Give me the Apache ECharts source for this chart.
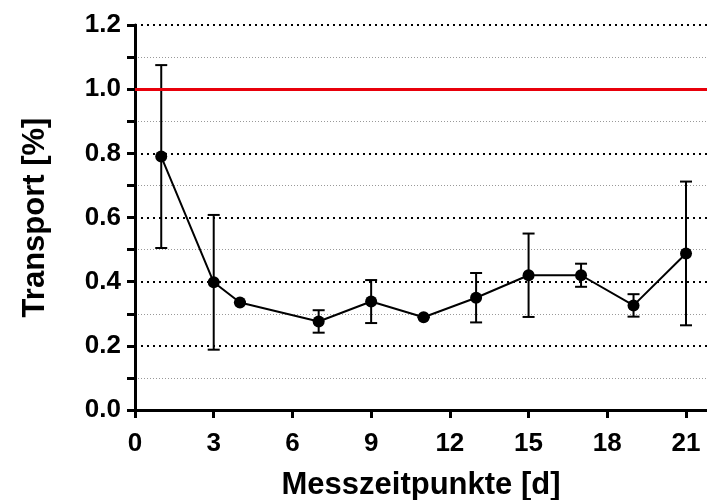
<!DOCTYPE html>
<html>
    <head>
        <meta charset="utf-8">
        <title>Transport</title>
        <script src="https://cdn.jsdelivr.net/npm/echarts@6/dist/echarts.min.js"></script>
        <style>
            html, body { margin: 0; padding: 0; background: #fff; }
            #chart1 { width: 707px; height: 500px; }
        </style>
    </head>
    <body>
        <div id="chart1"></div>
        <script type="text/javascript">
            // Messzeitpunkte (Tage)
            var days = [1, 3, 4, 7, 9, 11, 13, 15, 17, 19, 21];
            // Mittelwerte
            var means = [0.79, 0.398, 0.335, 0.276, 0.338, 0.289, 0.35, 0.42, 0.42, 0.326, 0.488];
            // Fehlerbalken (+/-)
            var errors = [0.285, 0.21, 0, 0.035, 0.067, 0, 0.077, 0.13, 0.036, 0.035, 0.224];
            // Referenzlinie
            var refLevel = 1.0;

            var font = '"Liberation Sans", Arial, sans-serif';

            var lineData = days.map(function (d, i) { return [d, means[i]]; });
            var errData = days.map(function (d, i) {
                return [d, means[i] - errors[i], means[i] + errors[i]];
            });

            var myChart = echarts.init(document.getElementById("chart1"));
            var option = {
                backgroundColor: '#fff',
                animation: false,
                // feste Plotfläche, keine automatische Verkleinerung
                grid: { left: 135, right: 0, top: 25, bottom: 90, outerBoundsMode: 'none', containLabel: false },
                xAxis: {
                    type: 'value',
                    min: 0,
                    max: 21.8,
                    interval: 3,
                    name: 'Messzeitpunkte [d]',
                    nameLocation: 'middle',
                    nameGap: 60,
                    nameTextStyle: { fontFamily: font, fontWeight: 'bold', fontSize: 31, color: '#000' },
                    axisLine: { onZero: false, lineStyle: { color: '#000', width: 3 } },
                    axisTick: { show: true, length: 8, lineStyle: { color: '#000', width: 3 } },
                    axisLabel: {
                        fontFamily: font, fontWeight: 'bold', fontSize: 26, color: '#000', margin: 21,
                        showMaxLabel: false
                    },
                    splitLine: { show: false }
                },
                yAxis: {
                    type: 'value',
                    min: 0,
                    max: 1.2,
                    interval: 0.2,
                    name: 'Transport [%]',
                    nameLocation: 'middle',
                    nameGap: 84,
                    nameRotate: 90,
                    nameTextStyle: { fontFamily: font, fontWeight: 'bold', fontSize: 31, color: '#000' },
                    axisLine: { show: true, lineStyle: { color: '#000', width: 3 } },
                    axisTick: { show: true, length: 8, lineStyle: { color: '#000', width: 3 } },
                    minorTick: { show: true, splitNumber: 2, length: 8, lineStyle: { color: '#000', width: 3 } },
                    axisLabel: {
                        fontFamily: font, fontWeight: 'bold', fontSize: 26, color: '#000', margin: 14,
                        formatter: function (v) { return v.toFixed(1); }
                    },
                    splitLine: { show: true, lineStyle: { color: '#000', width: 2, type: [2, 4] } },
                    minorSplitLine: { show: true, lineStyle: { color: '#999', width: 1, type: [1, 2] } }
                },
                series: [{
                    // Fehlerbalken
                    type: 'custom',
                    data: errData,
                    z: 3,
                    renderItem: function (params, api) {
                        var x = api.value(0);
                        var lo = api.coord([x, api.value(1)]);
                        var hi = api.coord([x, api.value(2)]);
                        var w = 6;
                        var st = { stroke: '#000', lineWidth: 2 };
                        return {
                            type: 'group',
                            children: [
                                { type: 'line', shape: { x1: lo[0], y1: lo[1], x2: hi[0], y2: hi[1] }, style: st },
                                { type: 'line', shape: { x1: hi[0] - w, y1: hi[1], x2: hi[0] + w, y2: hi[1] }, style: st },
                                { type: 'line', shape: { x1: lo[0] - w, y1: lo[1], x2: lo[0] + w, y2: lo[1] }, style: st }
                            ]
                        };
                    }
                }, {
                    // Mittelwerte
                    type: 'line',
                    data: lineData,
                    z: 4,
                    symbol: 'circle',
                    symbolSize: 12,
                    itemStyle: { color: '#000' },
                    lineStyle: { color: '#000', width: 2 },
                    markLine: {
                        silent: true,
                        symbol: 'none',
                        label: { show: false },
                        lineStyle: { color: '#e8000b', width: 3, type: 'solid' },
                        data: [{ yAxis: refLevel }]
                    }
                }]
            };
            myChart.setOption(option);
        </script>
    </body>
</html>
